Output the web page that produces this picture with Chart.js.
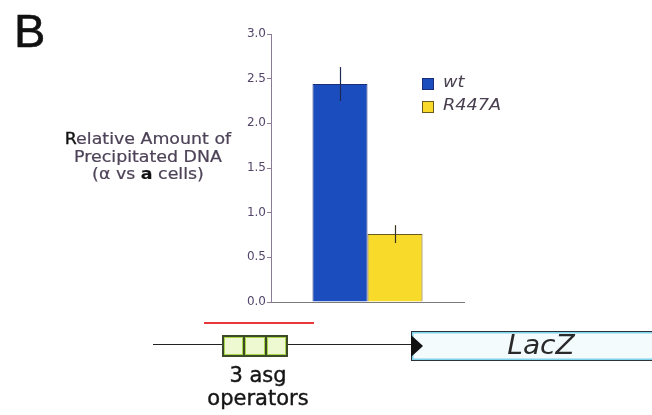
<!DOCTYPE html>
<html>
<head>
<meta charset="utf-8">
<script src="https://cdn.jsdelivr.net/npm/chart.js@4"></script>
<style>
  html, body { margin: 0; padding: 0; background: #fff; }
  #wrap { position: relative; width: 652px; height: 415px; overflow: hidden; font-family: "DejaVu Sans", sans-serif; }
  #chart { position: absolute; left: 0; top: 0; }
  .abs { position: absolute; white-space: nowrap; }
  #panel { left: 14px; top: 7px; font: 47px/47px "Liberation Sans", Arial, sans-serif; color: #111; -webkit-text-stroke: 0.6px #111; }
  #ytitle { left: 48px; top: 131px; width: 200px; text-align: center; font-size: 15px; line-height: 17.5px; color: #4d4257; transform: scaleX(1.16); -webkit-text-stroke: 0.2px #4d4257; }
  #ytitle b { color: #111; }
  #ytitle .r { color: #111; -webkit-text-stroke: 0.3px #111; }
  #legend { left: 422px; top: 74px; }
  .leg { position: relative; height: 23px; font-size: 15px; font-style: italic; color: #4a4050; }
  .leg i { position: absolute; left: 0; top: 4px; width: 10px; height: 10px; border: 1px solid; }
  .leg span { position: absolute; left: 21px; top: -3px; line-height: 22px; display: inline-block; transform: scaleX(1.18); transform-origin: left center; }
  #dna { left: 153px; top: 344px; width: 258px; height: 0; border-top: 1.5px solid #222; }
  #red { left: 204px; top: 322px; width: 110px; height: 0; border-top: 2px solid #e8383a; }
  #ops { left: 222px; top: 335px; width: 66px; height: 22px; display: flex; }
  #ops div { flex: 1; box-sizing: border-box; border: 2px solid #3d4a28; margin-left: -2px; background: #eef9d2; box-shadow: inset 0 0 0 1px #a8d84a; }
  #ops div:first-child { margin-left: 0; }
  #lacz { left: 411px; top: 331px; width: 260px; height: 30px; box-sizing: border-box; border: 1.5px solid #2c3338; background: #f3fbfd; box-shadow: inset 0 0 0 1.5px #7fd3ea; }
  #tri { left: 411px; top: 335px; width: 0; height: 0; border-top: 11px solid transparent; border-bottom: 11px solid transparent; border-left: 12px solid #111; }
  #laczt { left: 471px; top: 328px; width: 140px; text-align: center; font-size: 26px; line-height: 34px; font-style: italic; color: #2a2a2a; transform: scaleX(1.08); }
  #opst { left: 178px; top: 364px; width: 160px; text-align: center; font-size: 21px; line-height: 23px; color: #151515; -webkit-text-stroke: 0.4px #151515; }
</style>
</head>
<body>
<div id="wrap">
  <canvas id="chart" width="652" height="415"></canvas>
  <div class="abs" id="panel">B</div>
  <div class="abs" id="ytitle"><span class="r">R</span>elative Amount of<br>Precipitated DNA<br>(&alpha; vs <b>a</b> cells)</div>
  <div class="abs" id="legend"></div>
  <div class="abs" id="red"></div>
  <div class="abs" id="dna"></div>
  <div class="abs" id="ops"><div></div><div></div><div></div></div>
  <div class="abs" id="lacz"></div>
  <div class="abs" id="tri"></div>
  <div class="abs" id="laczt">LacZ</div>
  <div class="abs" id="opst">3 asg<br>operators</div>
</div>
<script>
// data
const categories = [""];
const seriesNames = ["wt", "R447A"];
const wtValues = [2.44];
const wtErrors = [0.19];
const r447aValues = [0.76];
const r447aErrors = [0.1];
const yTicks = [0, 0.5, 1.0, 1.5, 2.0, 2.5, 3.0];

const fills = ["#1c4dbf", "#f8da2a"];
const borders = ["#1b2f7a", "#6b5a1e"];
const errColors = ["#1d2a55", "#3a3320"];
const errorSets = [wtErrors, r447aErrors];

// html legend from the series
const legend = document.querySelector("#legend");
seriesNames.forEach((name, i) => {
  const row = document.createElement("div");
  row.className = "leg";
  row.innerHTML = '<i style="background:' + fills[i] + ';border-color:' + borders[i] + '"></i><span>' + name + "</span>";
  legend.appendChild(row);
});

const errorBars = {
  id: "errorBars",
  afterDatasetsDraw(chart) {
    const ctx = chart.ctx;
    const y = chart.scales.y;
    chart.data.datasets.forEach((ds, i) => {
      const meta = chart.getDatasetMeta(i);
      meta.data.forEach((bar, j) => {
        const v = ds.data[j];
        const e = errorSets[i][j];
        ctx.save();
        ctx.strokeStyle = errColors[i];
        ctx.lineWidth = 1.2;
        ctx.beginPath();
        ctx.moveTo(Math.round(bar.x) + 0.5, y.getPixelForValue(v + e));
        ctx.lineTo(Math.round(bar.x) + 0.5, y.getPixelForValue(v - e));
        ctx.stroke();
        ctx.restore();
      });
    });
  },
};

const chart = document.querySelector("#chart");
const ctx = chart.getContext("2d");

new Chart(ctx, {
  type: "bar",
  data: {
    labels: categories,
    datasets: [
      { label: seriesNames[0], data: wtValues, backgroundColor: fills[0], borderColor: borders[0], borderWidth: 1 },
      { label: seriesNames[1], data: r447aValues, backgroundColor: fills[1], borderColor: borders[1], borderWidth: 1 },
    ],
  },
  options: {
    responsive: false,
    animation: false,
    events: [],
    categoryPercentage: 0.57,
    barPercentage: 1,
    layout: { padding: { left: 0, right: 188, top: 34, bottom: 113 } },
    plugins: { legend: { display: false }, tooltip: { enabled: false } },
    scales: {
      x: {
        grid: { display: false },
        border: { display: true, color: "#7a7a7a", width: 1 },
        ticks: { display: false },
        afterFit(scale) { scale.height = 0; },
      },
      y: {
        min: 0,
        max: 3,
        afterBuildTicks(scale) { scale.ticks = yTicks.map((v) => ({ value: v })); },
        afterFit(scale) { scale.width = 271; },
        grid: { drawOnChartArea: false, drawTicks: true, tickLength: 4, color: "#8c7b95" },
        border: { display: true, color: "#8c7b95", width: 1 },
        ticks: {
          padding: 1,
          color: "#54466a",
          font: { family: "DejaVu Sans", size: 12 },
          callback: (v) => Number(v).toFixed(1),
        },
      },
    },
  },
  plugins: [errorBars],
});
</script>
</body>
</html>
